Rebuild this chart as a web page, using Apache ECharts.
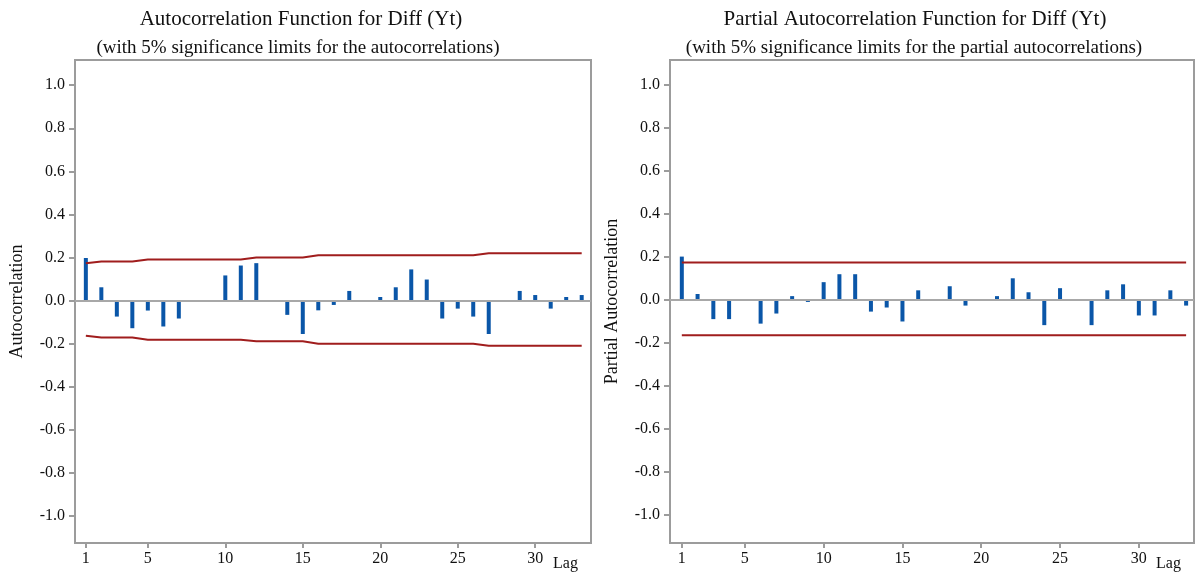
<!DOCTYPE html>
<html>
<head>
<meta charset="utf-8">
<script src="https://cdn.jsdelivr.net/npm/echarts@6/dist/echarts.min.js"></script>
<style>
html,body{margin:0;padding:0;background:#fff;}
#chart{width:1197px;height:572px;}
</style>
</head>
<body>
<div id="chart"></div>
<script>
const lags = [1,2,3,4,5,6,7,8,9,10,11,12,13,14,15,16,17,18,19,20,21,22,23,24,25,26,27,28,29,30,31,32,33];
const acf = [0.198, 0.062, -0.074, -0.128, -0.046, -0.120, -0.083, 0, 0, 0.117, 0.163, 0.174, 0, -0.066, -0.155, -0.045,
             -0.020, 0.045, 0, 0.017, 0.062, 0.145, 0.098, -0.083, -0.037, -0.074, -0.155, 0, 0.045, 0.026, -0.037, 0.017, 0.026];
const acfUpper = [0.174, 0.182, 0.182, 0.182, 0.191, 0.191, 0.191, 0.191, 0.191, 0.191, 0.191, 0.200, 0.200, 0.200, 0.200,
                  0.211, 0.211, 0.211, 0.211, 0.211, 0.211, 0.211, 0.211, 0.211, 0.211, 0.211, 0.220, 0.220, 0.220, 0.220, 0.220, 0.220, 0.220];
const acfLower = [-0.163, -0.171, -0.171, -0.171, -0.182, -0.182, -0.182, -0.182, -0.182, -0.182, -0.182, -0.189, -0.189, -0.189, -0.189,
                  -0.200, -0.200, -0.200, -0.200, -0.200, -0.200, -0.200, -0.200, -0.200, -0.200, -0.200, -0.209, -0.209, -0.209, -0.209, -0.209, -0.209, -0.209];
const pacf = [0.200, 0.026, -0.091, -0.091, 0, -0.112, -0.065, 0.016, -0.011, 0.081, 0.118, 0.118, -0.056, -0.037, -0.102, 0.043,
              0, 0.062, -0.028, 0, 0.016, 0.099, 0.034, -0.119, 0.053, 0, -0.119, 0.043, 0.071, -0.074, -0.074, 0.043, -0.028];
const pacfUpperLimit = 0.172;
const pacfLowerLimit = -0.166;
const xTickLabels = [1, 5, 10, 15, 20, 25, 30];
const yTickLabels = [-1.0, -0.8, -0.6, -0.4, -0.2, 0.0, 0.2, 0.4, 0.6, 0.8, 1.0];

const FONT = '"Liberation Serif", "DejaVu Serif", serif';
const BLUE = '#0a56a8';
const RED = '#a01d1d';
const GRAY = '#9c9c9c';

const chart = echarts.init(document.getElementById('chart'));

function xAxisDef(idx, min, max) {
  return {
    type: 'value', gridIndex: idx, min: min, max: max, position: 'bottom',
    axisLine: {show: false, onZero: false},
    splitLine: {show: false},
    axisTick: {show: true, customValues: xTickLabels, length: 5, lineStyle: {color: GRAY, width: 2}},
    axisLabel: {customValues: xTickLabels, fontFamily: FONT, fontSize: 16, color: '#111', margin: 8},
    name: 'Lag', nameLocation: 'end', nameGap: -38,
    nameTextStyle: {fontFamily: FONT, fontSize: 16, color: '#111', verticalAlign: 'top', align: 'left', padding: [13, 0, 0, 0]}
  };
}
function yAxisDef(idx, min, max, name) {
  return {
    type: 'value', gridIndex: idx, min: min, max: max, position: 'left',
    axisLine: {show: false, onZero: false},
    splitLine: {show: false},
    axisTick: {show: true, customValues: yTickLabels, length: 6, lineStyle: {color: GRAY, width: 2}},
    axisLabel: {customValues: yTickLabels, fontFamily: FONT, fontSize: 16, color: '#111', margin: 10,
                formatter: v => v.toFixed(1)},
    name: name, nameLocation: 'middle', nameGap: 49,
    nameTextStyle: {fontFamily: FONT, fontSize: 18, color: '#111'}
  };
}
const zeroLine = {
  silent: true, symbol: 'none', label: {show: false},
  lineStyle: {color: '#a8a8a8', width: 2, type: 'solid'},
  data: [{yAxis: 0}]
};

chart.setOption({
  animation: false,
  backgroundColor: '#fff',
  title: [
    {text: 'Autocorrelation Function for Diff (Yt)', left: 296, top: 4, textAlign: 'center',
     textStyle: {fontFamily: FONT, fontSize: 21, fontWeight: 'normal', color: '#111'}},
    {text: '(with 5% significance limits for the autocorrelations)', left: 293, top: 34, textAlign: 'center',
     textStyle: {fontFamily: FONT, fontSize: 19, fontWeight: 'normal', color: '#111'}},
    {text: 'Partial Autocorrelation Function for Diff (Yt)', left: 910, top: 4, textAlign: 'center',
     textStyle: {fontFamily: FONT, fontSize: 21, fontWeight: 'normal', color: '#111'}},
    {text: '(with 5% significance limits for the partial autocorrelations)', left: 909, top: 34, textAlign: 'center',
     textStyle: {fontFamily: FONT, fontSize: 19, fontWeight: 'normal', color: '#111'}}
  ],
  grid: [
    {left: 75, top: 60, width: 516, height: 486, show: true, borderColor: GRAY, borderWidth: 2, backgroundColor: 'transparent'},
    {left: 670, top: 60, width: 524, height: 484, show: true, borderColor: GRAY, borderWidth: 2, backgroundColor: 'transparent'}
  ],
  xAxis: [xAxisDef(0, 0.3, 33.6), xAxisDef(1, 0.25, 33.5)],
  yAxis: [yAxisDef(0, -1.125, 1.117, 'Autocorrelation'), yAxisDef(1, -1.133, 1.115, 'Partial Autocorrelation')],
  series: [
    {type: 'bar', xAxisIndex: 0, yAxisIndex: 0, barWidth: 4, itemStyle: {color: BLUE},
     data: lags.map((l, i) => [l, acf[i]]), markLine: zeroLine, z: 3},
    {type: 'line', xAxisIndex: 0, yAxisIndex: 0, showSymbol: false, symbol: 'none',
     lineStyle: {color: RED, width: 2}, data: lags.map((l, i) => [l, acfUpper[i]]), z: 4},
    {type: 'line', xAxisIndex: 0, yAxisIndex: 0, showSymbol: false, symbol: 'none',
     lineStyle: {color: RED, width: 2}, data: lags.map((l, i) => [l, acfLower[i]]), z: 4},
    {type: 'bar', xAxisIndex: 1, yAxisIndex: 1, barWidth: 4, itemStyle: {color: BLUE},
     data: lags.map((l, i) => [l, pacf[i]]), markLine: zeroLine, z: 3},
    {type: 'line', xAxisIndex: 1, yAxisIndex: 1, showSymbol: false, symbol: 'none',
     lineStyle: {color: RED, width: 2}, data: lags.map(l => [l, pacfUpperLimit]), z: 4},
    {type: 'line', xAxisIndex: 1, yAxisIndex: 1, showSymbol: false, symbol: 'none',
     lineStyle: {color: RED, width: 2}, data: lags.map(l => [l, pacfLowerLimit]), z: 4}
  ]
});
</script>
</body>
</html>
